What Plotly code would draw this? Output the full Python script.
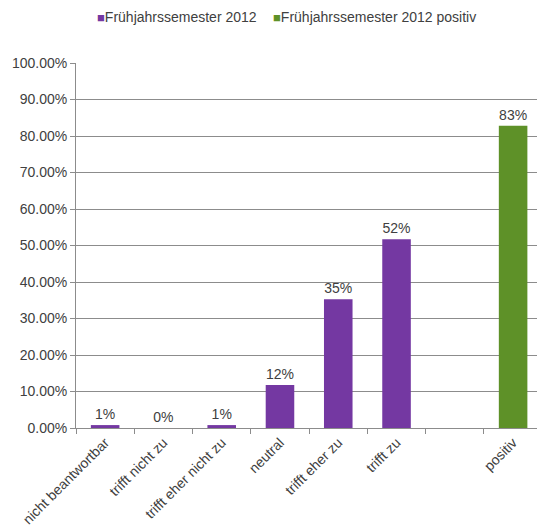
import plotly.graph_objects as go

# Response categories (the blank slot separates the summary bar)
categories = ["nicht beantwortbar", "trifft nicht zu", "trifft eher nicht zu",
              "neutral", "trifft eher zu", "trifft zu", " ", "positiv"]

answer_labels = ["nicht beantwortbar", "trifft nicht zu", "trifft eher nicht zu",
                 "neutral", "trifft eher zu", "trifft zu"]
answer_shares = [0.008, 0.0, 0.008, 0.118, 0.353, 0.517]

positive_labels = ["positiv"]
positive_shares = [0.828]

series_names = ["Frühjahrssemester 2012", "Frühjahrssemester 2012 positiv"]

PURPLE = "#7438A2"
GREEN = "#5E9128"
TEXT = "#404040"
GRID = "#8C8C8C"
FONT = "Liberation Sans, Arial, sans-serif"
FS = 14

fig = go.Figure()
fig.add_trace(go.Bar(
    x=answer_labels, y=answer_shares, name=series_names[0],
    marker=dict(color=PURPLE, line=dict(width=0)),
    text=[f"{v:.0%}" for v in answer_shares], textposition="outside",
    textfont=dict(size=FS, color=TEXT, family=FONT),
    cliponaxis=False, width=0.49,
))
fig.add_trace(go.Bar(
    x=positive_labels, y=positive_shares, name=series_names[1],
    marker=dict(color=GREEN, line=dict(width=0)),
    text=[f"{v:.0%}" for v in positive_shares], textposition="outside",
    textfont=dict(size=FS, color=TEXT, family=FONT),
    cliponaxis=False, width=0.49,
))

# Compact legend: small coloured squares followed by the series names
legend_items = [(series_names[0], PURPLE, 95), (series_names[1], GREEN, 271)]
for name, color, x0 in legend_items:
    fig.add_annotation(
        xref="paper", yref="paper", x=(x0 - 76) / 461, y=1 + (63 - 17) / 365,
        xanchor="left", yanchor="middle", showarrow=False,
        text=f"<span style='color:{color}; font-size:13px'>■</span>{name}",
        font=dict(size=FS, color=TEXT, family=FONT),
    )

fig.update_layout(
    width=537, height=530,
    margin=dict(l=76, r=0, t=63, b=102),
    paper_bgcolor="white", plot_bgcolor="white",
    barmode="overlay",
    font=dict(family=FONT, size=FS, color=TEXT),
    showlegend=False,
    uniformtext=dict(mode=False),
)

fig.update_xaxes(
    type="category", categoryorder="array", categoryarray=categories,
    range=[-0.5, 7.41], tickson="boundaries",
    ticks="outside", ticklen=5, tickcolor=GRID,
    showline=True, linecolor=GRID, linewidth=1,
    tickangle=-45, tickfont=dict(size=FS, color=TEXT, family=FONT),
    showgrid=False, fixedrange=True,
)
fig.update_yaxes(
    range=[0, 1], dtick=0.1, tickformat=".2%",
    showgrid=True, gridcolor=GRID, gridwidth=1,
    showline=True, linecolor=GRID, linewidth=1,
    ticks="outside", ticklen=5, tickcolor=GRID,
    tickfont=dict(size=FS, color=TEXT, family=FONT),
    zeroline=False, fixedrange=True,
)

fig.write_html("out.html")
